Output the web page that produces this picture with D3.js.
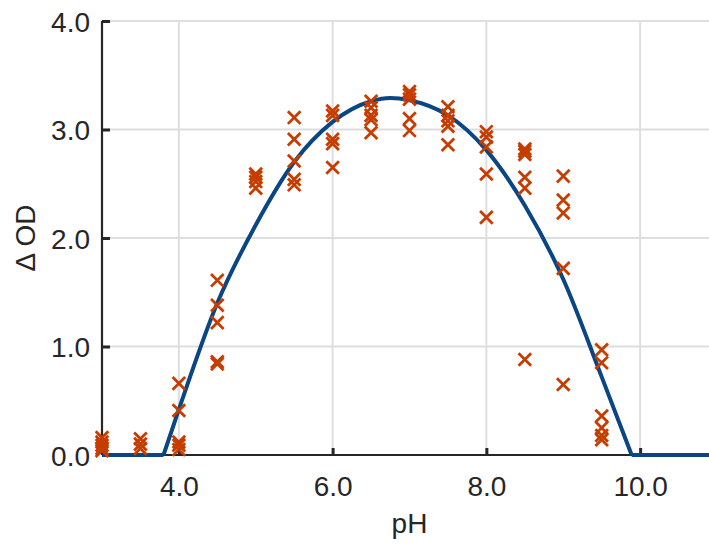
<!DOCTYPE html>
<html>
<head>
<meta charset="utf-8">
<script src="https://cdn.jsdelivr.net/npm/d3@7"></script>
<style>
  html, body { margin: 0; padding: 0; background: #fff; overflow: hidden; }
  svg { display: block; }
  text { font-family: "Liberation Sans", Arial, Helvetica, sans-serif; fill: #262626; }
</style>
</head>
<body>
<svg id="chart" width="709" height="548"></svg>
<script>
// ---- data ----
const phLevels = [3.0, 3.5, 4.0, 4.5, 5.0, 5.5, 6.0, 6.5, 7.0, 7.5, 8.0, 8.5, 9.0, 9.5];
const odValues = [
  [0.16, 0.12, 0.09, 0.06, 0.04],
  [0.15, 0.10, 0.06],
  [0.66, 0.41, 0.12, 0.09, 0.05],
  [1.61, 1.38, 1.22, 0.86, 0.84],
  [2.59, 2.56, 2.52, 2.46],
  [3.11, 2.91, 2.71, 2.54, 2.49],
  [3.17, 3.13, 2.91, 2.87, 2.65],
  [3.26, 3.20, 3.13, 3.09, 2.97],
  [3.35, 3.32, 3.28, 3.10, 2.99],
  [3.21, 3.13, 3.08, 3.03, 2.86],
  [2.98, 2.93, 2.84, 2.59, 2.19],
  [2.82, 2.80, 2.77, 2.56, 2.46, 0.88],
  [2.57, 2.35, 2.23, 1.72, 0.65],
  [0.97, 0.85, 0.36, 0.25, 0.18, 0.14]
];
// fitted curve
const fitFlatLeft = [[3.0, 0], [3.8, 0]];
const fitArc = [
  [3.8, 0], [4.0, 0.42], [4.5, 1.40], [5.0, 2.12], [5.5, 2.70], [6.0, 3.07],
  [6.5, 3.26], [6.75, 3.29], [7.0, 3.27], [7.5, 3.13], [8.0, 2.81],
  [8.5, 2.30], [9.0, 1.62], [9.5, 0.72], [9.89, 0]
];
const fitFlatRight = [[9.89, 0], [11.0, 0]];
const xTicks = [4, 6, 8, 10];
const xTickLabels = ["4.0", "6.0", "8.0", "10.0"];
const yTicks = [0, 1, 2, 3, 4];
const yTickLabels = ["0.0", "1.0", "2.0", "3.0", "4.0"];
const xLabel = "pH";
const yLabel = "\u0394 OD";

// ---- layout ----
const svg = d3.select("#chart");
const mLeft = 102, mRight = 717, mTop = 21, mBottom = 455;
const x = d3.scaleLinear().domain([3, 11]).range([mLeft, mRight]);
const y = d3.scaleLinear().domain([0, 4]).range([mBottom, mTop]);

const axisColor = "#262626";
const gridColor = "#dedede";
const curveColor = "#0b4684";
const markerColor = "#c63d00";

// grid
const grid = svg.append("g");
grid.selectAll("line.v").data(xTicks).enter().append("line")
  .attr("x1", d => x(d)).attr("x2", d => x(d))
  .attr("y1", mTop).attr("y2", mBottom)
  .attr("stroke", gridColor).attr("stroke-width", 2);
grid.selectAll("line.h").data(yTicks).enter().append("line")
  .attr("x1", mLeft).attr("x2", mRight)
  .attr("y1", d => y(d)).attr("y2", d => y(d))
  .attr("stroke", gridColor).attr("stroke-width", 2);

// axes (ticks inward)
const xAxis = d3.axisBottom(x).tickValues(xTicks).tickSize(-7).tickFormat((d, i) => xTickLabels[i]);
const yAxis = d3.axisLeft(y).tickValues(yTicks).tickSize(-8).tickFormat((d, i) => yTickLabels[i]);

const gx = svg.append("g").attr("transform", `translate(0,${mBottom})`).call(xAxis);
gx.select(".domain").remove();
gx.selectAll(".tick line").attr("stroke", axisColor).attr("stroke-width", 3);
gx.selectAll(".tick text").attr("font-size", 28).attr("y", 0).attr("dy", "1.45em")
  .style("font-family", "'Liberation Sans', Arial, sans-serif").attr("fill", axisColor);

const gy = svg.append("g").attr("transform", `translate(${mLeft},0)`).call(yAxis);
gy.select(".domain").remove();
gy.selectAll(".tick line").attr("stroke", axisColor).attr("stroke-width", 3);
gy.selectAll(".tick text").attr("font-size", 28).attr("x", -12).attr("dy", "0.36em")
  .style("font-family", "'Liberation Sans', Arial, sans-serif").attr("fill", axisColor);

// axis lines
svg.append("line").attr("x1", mLeft).attr("x2", mRight).attr("y1", mBottom).attr("y2", mBottom)
  .attr("stroke", axisColor).attr("stroke-width", 2.2);
svg.append("line").attr("x1", mLeft).attr("x2", mLeft).attr("y1", mTop).attr("y2", mBottom)
  .attr("stroke", axisColor).attr("stroke-width", 2.2);

// fitted curve
const lineLin = d3.line().x(d => x(d[0])).y(d => y(d[1]));
const lineArc = d3.line().x(d => x(d[0])).y(d => y(d[1])).curve(d3.curveMonotoneX);
[fitFlatLeft, fitFlatRight].forEach(seg => {
  svg.append("path").attr("d", lineLin(seg)).attr("fill", "none")
    .attr("stroke", curveColor).attr("stroke-width", 4).attr("stroke-linejoin", "round");
});
svg.append("path").attr("d", lineArc(fitArc)).attr("fill", "none")
  .attr("stroke", curveColor).attr("stroke-width", 4).attr("stroke-linejoin", "round");

// markers
const points = [];
phLevels.forEach((p, i) => odValues[i].forEach(v => points.push([p, v])));
const s = 6.3;
const marks = svg.append("g");
points.forEach(d => {
  const cx = x(d[0]), cy = y(d[1]);
  marks.append("path")
    .attr("d", `M${cx - s},${cy - s}L${cx + s},${cy + s}M${cx - s},${cy + s}L${cx + s},${cy - s}`)
    .attr("stroke", markerColor).attr("stroke-width", 2.8).attr("fill", "none");
});

// labels
svg.append("text").attr("x", (mLeft + mRight) / 2).attr("y", 533)
  .attr("text-anchor", "middle").attr("font-size", 28).text(xLabel);
svg.append("text").attr("transform", `translate(35,${(mTop + mBottom) / 2}) rotate(-90)`)
  .attr("text-anchor", "middle").attr("font-size", 28).text(yLabel);
</script>
</body>
</html>
